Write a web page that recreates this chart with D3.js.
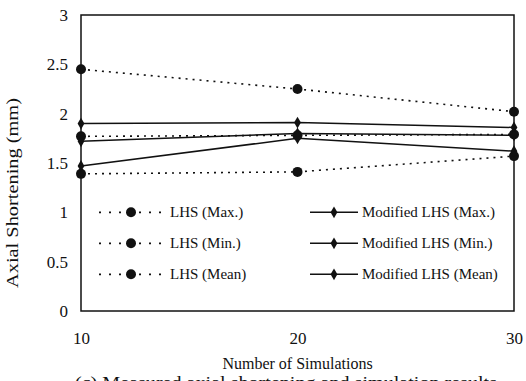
<!DOCTYPE html>
<html>
<head>
<meta charset="utf-8">
<script src="https://cdn.jsdelivr.net/npm/d3@7"></script>
<style>
  body { margin: 0; background: #fff; }
  text { font-family: "Liberation Serif", "DejaVu Serif", serif; fill: #111; }
</style>
</head>
<body>
<div id="chart"></div>
<script>
// data
var sims = [10, 20, 30];
var lhsMax = [2.45, 2.25, 2.02];
var lhsMin = [1.39, 1.41, 1.57];
var lhsMean = [1.77, 1.78, 1.79];
var modMax = [1.90, 1.91, 1.86];
var modMin = [1.47, 1.75, 1.62];
var modMean = [1.72, 1.80, 1.78];
var yTicks = [0, 0.5, 1, 1.5, 2, 2.5, 3];
var seriesNames = ["LHS (Max.)", "LHS (Min.)", "LHS (Mean)", "Modified LHS (Max.)", "Modified LHS (Min.)", "Modified LHS (Mean)"];

var margin = {top: 15, right: 12, bottom: 70, left: 81},
    width = 526 - margin.left - margin.right,
    height = 381 - margin.top - margin.bottom;

var svg = d3.select("#chart")
  .append("svg")
  .attr("width", 526)
  .attr("height", 381)
  .append("g")
  .attr("transform", "translate(" + margin.left + "," + margin.top + ")");

var x = d3.scaleLinear().domain([10, 30]).range([0, width]);
var y = d3.scaleLinear().domain([0, 3]).range([height, 0]);

// frame
svg.append("rect")
  .attr("width", width)
  .attr("height", height)
  .attr("fill", "none")
  .attr("stroke", "#111")
  .attr("stroke-width", 1.5);

// axes (labels only, the frame is the box)
var yAxis = svg.append("g")
  .call(d3.axisLeft(y).tickValues(yTicks).tickSize(0).tickPadding(13).tickFormat(function(d) { return d; }));
yAxis.select(".domain").remove();
yAxis.selectAll("text").style("font-size", "17px");

var xAxis = svg.append("g")
  .attr("transform", "translate(0," + height + ")")
  .call(d3.axisBottom(x).tickValues(sims).tickSize(0).tickPadding(21));
xAxis.select(".domain").remove();
xAxis.selectAll("text").style("font-size", "17px");

// axis titles
svg.append("text")
  .attr("transform", "rotate(-90)")
  .attr("x", -(193 - margin.top))
  .attr("y", -63)
  .attr("text-anchor", "middle")
  .attr("textLength", 190)
  .attr("lengthAdjust", "spacingAndGlyphs")
  .style("font-size", "17px")
  .text("Axial Shortening (mm)");

svg.append("text")
  .attr("x", x(20))
  .attr("y", height + 58)
  .attr("text-anchor", "middle")
  .style("font-size", "16px")
  .text("Number of Simulations");

// caption, cut off by the bottom edge as in the reference
svg.append("text")
  .attr("x", 75 - margin.left)
  .attr("y", height + 77)
  .attr("textLength", 422)
  .attr("lengthAdjust", "spacingAndGlyphs")
  .style("font-size", "17px")
  .text("(c) Measured axial shortening and simulation results");

var line = d3.line()
  .x(function(d, i) { return x(sims[i]); })
  .y(function(d) { return y(d); });

var lhsSeries = [lhsMax, lhsMin, lhsMean];
var modSeries = [modMax, modMin, modMean];

// LHS: dotted lines with circles
lhsSeries.forEach(function(s) {
  svg.append("path")
    .datum(s)
    .attr("d", line)
    .attr("fill", "none")
    .attr("stroke", "#111")
    .attr("stroke-width", 1.6)
    .attr("stroke-dasharray", "2,5");
  svg.selectAll(null)
    .data(s)
    .enter()
    .append("circle")
    .attr("cx", function(d, i) { return x(sims[i]); })
    .attr("cy", function(d) { return y(d); })
    .attr("r", 5)
    .attr("fill", "#111");
});

var diamond = d3.symbol().type(d3.symbolDiamond).size(40);

// Modified LHS: solid lines with diamonds
modSeries.forEach(function(s) {
  svg.append("path")
    .datum(s)
    .attr("d", line)
    .attr("fill", "none")
    .attr("stroke", "#111")
    .attr("stroke-width", 1.5);
  svg.selectAll(null)
    .data(s)
    .enter()
    .append("path")
    .attr("d", diamond)
    .attr("transform", function(d, i) { return "translate(" + x(sims[i]) + "," + y(d) + ")"; })
    .attr("fill", "#111");
});

// legend
var legendRows = [0, 1, 2];
var legend = svg.append("g");
legendRows.forEach(function(r) {
  var ly = y(1) + r * 31;
  // left column
  legend.append("line")
    .attr("x1", 18).attr("x2", 87)
    .attr("y1", ly).attr("y2", ly)
    .attr("stroke", "#111")
    .attr("stroke-width", 1.6)
    .attr("stroke-dasharray", "2,8");
  legend.append("circle")
    .attr("cx", 50).attr("cy", ly).attr("r", 5).attr("fill", "#111");
  legend.append("text")
    .attr("x", 89).attr("y", ly + 5)
    .style("font-size", "15px")
    .text(seriesNames[r]);
  // right column
  legend.append("line")
    .attr("x1", 229).attr("x2", 277)
    .attr("y1", ly).attr("y2", ly)
    .attr("stroke", "#111")
    .attr("stroke-width", 1.5);
  legend.append("path")
    .attr("d", diamond)
    .attr("transform", "translate(253," + ly + ")")
    .attr("fill", "#111");
  legend.append("text")
    .attr("x", 281).attr("y", ly + 5)
    .style("font-size", "15px")
    .text(seriesNames[r + 3]);
});
</script>
</body>
</html>
